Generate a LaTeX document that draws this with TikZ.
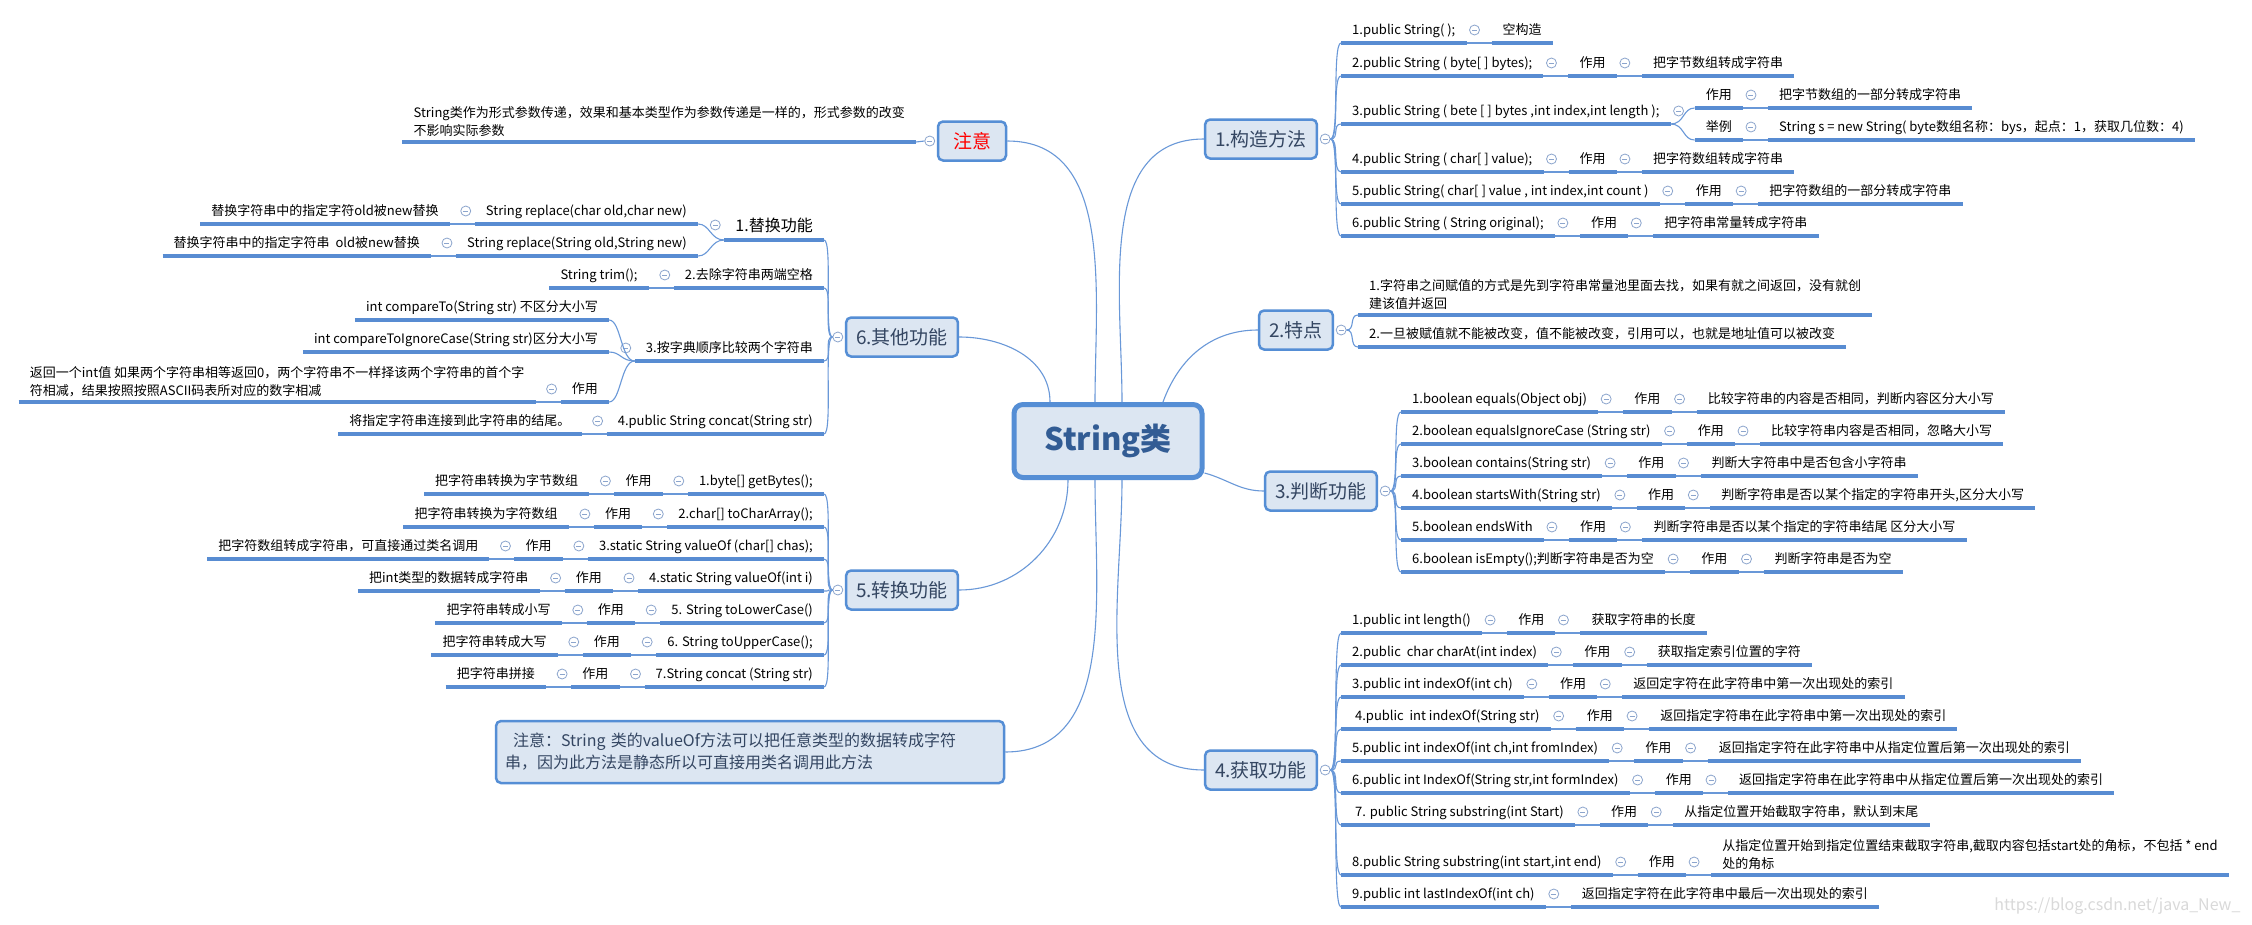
\documentclass[tikz,border=0pt]{standalone}
\usepackage{fontspec}
\setmainfont{Noto Sans CJK SC}
\usepackage{tikz}
\usetikzlibrary{positioning,calc}
\definecolor{boxc}{RGB}{85,142,213}
\definecolor{boxf}{RGB}{220,230,242}
\definecolor{ulc}{RGB}{88,140,210}
\definecolor{linkc}{RGB}{105,152,216}
\definecolor{foldc}{RGB}{140,165,205}
\definecolor{roottxt}{RGB}{50,92,148}
\definecolor{branchtxt}{RGB}{52,70,98}
\tikzset{
	root/.style={draw=boxc,line width=5pt,rounded corners=9pt,fill=boxf,text=roottxt,font=\bfseries\fontsize{31}{36}\selectfont,minimum width=188pt,minimum height=73pt},
	branch/.style={draw=boxc,line width=2.5pt,rounded corners=5pt,fill=boxf,text=branchtxt,font=\fontsize{19}{22}\selectfont,minimum width=68pt,minimum height=39pt,inner xsep=10pt},
	notebox/.style={branch,font=\fontsize{16}{22}\selectfont,align=left,text width=490pt,inner xsep=9pt,minimum height=62pt},
	uline/.style={draw=ulc,line width=3.5pt},
	txt/.style={font=\fontsize{13}{18}\selectfont,inner xsep=11pt,inner ysep=3pt,append after command={(\tikzlastnode.south west) edge[uline] (\tikzlastnode.south east)}},
	leaf/.style={txt,text height=10pt,text depth=5pt},
	midtxt/.style={txt,font=\fontsize{16}{20}\selectfont,text height=12pt,text depth=5pt},
	multi/.style={txt,align=left,inner ysep=5pt},
	link/.style={draw=linkc,line width=1.1pt},
	fold/.style={circle,draw=foldc,fill=white,line width=0.8pt,inner sep=0pt,minimum size=10pt,path picture={\draw[foldc,line width=0.8pt] ([xshift=-2.5pt]path picture bounding box.center) -- ([xshift=2.5pt]path picture bounding box.center);}}
}
\begin{document}
\begin{tikzpicture}[x=1pt,y=-1pt]
	\fill[white] (0,0) rectangle (2252,924);
	\useasboundingbox (0,0) rectangle (2252,924);
	\node[root] (root) at (1108,441) {String类};
	\node[branch] (gouzao) at (1261,139) {1.构造方法};
	\node[branch] (tedian) at (1296,330) {2.特点};
	\node[branch] (panduan) at (1321,491) {3.判断功能};
	\node[branch] (huoqu) at (1261,770) {4.获取功能};
	\node[branch,text=red] (zhuyi) at (972,141) {注意};
	\node[branch] (qita) at (902,337) {6.其他功能};
	\node[branch] (zhuanhuan) at (902,590) {5.转换功能};
	\node[notebox] (note) at (750,752) {\hspace*{8pt}注意：String 类的valueOf方法可以把任意类型的数据转成字符\\串，因为此方法是静态所以可直接用类名调用此方法};
	\foreach \b in {gouzao,tedian,panduan,huoqu}
		\node[fold] (\b-f) at ([xshift=7pt]\b.east) {};
	\foreach \b in {zhuyi,qita,zhuanhuan}
		\node[fold] (\b-f) at ([xshift=-7pt]\b.west) {};
	\draw[link] ([xshift=-58pt]root.north) to[out=90,in=0] (qita.east);
	\draw[link] ([xshift=-13pt]root.north) to[out=90,in=0] (zhuyi.east);
	\draw[link] ([xshift=14pt]root.north) to[out=90,in=180] (gouzao.west);
	\draw[link] ([xshift=55pt]root.north) to[out=70,in=180] (tedian.west);
	\draw[link] ([yshift=-32pt]root.east) to[out=-15,in=180] (panduan.west);
	\draw[link] ([xshift=-40pt]root.south) to[out=-90,in=0] (zhuanhuan.east);
	\draw[link] ([xshift=-13pt]root.south) to[out=-90,in=0] (note.east);
	\draw[link] ([xshift=14pt]root.south) to[out=-90,in=180] (huoqu.west);

	\node[leaf,anchor=south west] (c1) at (1341,43) {1.public String( );};
	\node[leaf,right=25pt of c1.south east,anchor=south west] (c1-d) {空构造};
	\node[leaf,anchor=south west] (c3) at (1341,124) {3.public String ( bete [ ] bytes ,int index,int length );};
	\node[leaf,right=24pt of c3.south east,anchor=south west,yshift=16pt] (c3a) {作用};
	\node[leaf,right=24pt of c3.south east,anchor=south west,yshift=-16pt] (c3b) {举例};
	\node[leaf,right=25pt of c3a.south east,anchor=south west] (c3a-d) {把字节数组的一部分转成字符串};
	\node[leaf,right=25pt of c3b.south east,anchor=south west] (c3b-d) {String s = new String( byte数组名称：bys，起点：1，获取几位数：4)};
	\node[multi,anchor=south west] (t1) at (1358,315) {1.字符串之间赋值的方式是先到字符串常量池里面去找，如果有就之间返回，没有就创\\建该值并返回};
	\node[leaf,anchor=south west] (t2) at (1358,347) {2.一旦被赋值就不能被改变，值不能被改变，引用可以，也就是地址值可以被改变};
	\node[leaf,anchor=south west] (h8) at (1341,875) {8.public String substring(int start,int end)};
	\node[leaf,right=25pt of h8.south east,anchor=south west] (h8-z) {作用};
	\node[multi,right=25pt of h8-z.south east,anchor=south west] (h8-d) {从指定位置开始到指定位置结束截取字符串,截取内容包括start处的角标，不包括 * end\\处的角标};
	\node[leaf,anchor=south west] (h9) at (1341,907) {9.public int lastIndexOf(int ch)};
	\node[leaf,right=25pt of h9.south east,anchor=south west] (h9-d) {返回指定字符在此字符串中最后一次出现处的索引};
	\foreach \a/\b in {c1/c1-d,c3a/c3a-d,c3b/c3b-d,h8/h8-z,h8-z/h8-d,h9/h9-d}{
		\draw[link] (\a.south east) -- (\b.south west);
		\node[fold] (\a-f) at ([shift={(8pt,13pt)}]\a.south east) {};
	}
	\node[fold] (c3-f) at ([shift={(8pt,13pt)}]c3.south east) {};
	\foreach \b in {c3a,c3b}
		\draw[link] (c3.south east) .. controls +(14pt,0) and +(-12pt,0) .. (\b.south west);

	\foreach \n/\x/\y/\m/\w in {
		c2/1341/76/{2.public String ( byte[ ] bytes);}/{把字节数组转成字符串},
		c4/1341/172/{4.public String ( char[ ] value);}/{把字符数组转成字符串},
		c5/1341/204/{5.public String( char[ ] value , int index,int count )}/{把字符数组的一部分转成字符串},
		c6/1341/236/{6.public String ( String original);}/{把字符串常量转成字符串},
		j1/1401/412/{1.boolean equals(Object obj)}/{比较字符串的内容是否相同，判断内容区分大小写},
		j2/1401/444/{2.boolean equalsIgnoreCase (String str)}/{比较字符串内容是否相同，忽略大小写},
		j3/1401/476/{3.boolean contains(String str)}/{判断大字符串中是否包含小字符串},
		j4/1401/508/{4.boolean startsWith(String str)}/{判断字符串是否以某个指定的字符串开头,区分大小写},
		j5/1401/540/{5.boolean endsWith}/{判断字符串是否以某个指定的字符串结尾 区分大小写},
		j6/1401/572/{6.boolean isEmpty();判断字符串是否为空}/{判断字符串是否为空},
		h1/1341/633/{1.public int length()}/{获取字符串的长度},
		h2/1341/665/{2.public\ \ char charAt(int index)}/{获取指定索引位置的字符},
		h3/1341/697/{3.public int indexOf(int ch)}/{返回定字符在此字符串中第一次出现处的索引},
		h4/1341/729/{\ 4.public\ \ int indexOf(String str)}/{返回指定字符串在此字符串中第一次出现处的索引},
		h5/1341/761/{5.public int indexOf(int ch,int fromIndex)}/{返回指定字符在此字符串中从指定位置后第一次出现处的索引},
		h6/1341/793/{6.public int IndexOf(String str,int formIndex)}/{返回指定字符串在此字符串中从指定位置后第一次出现处的索引},
		h7/1341/825/{\ 7. public String substring(int Start)}/{从指定位置开始截取字符串，默认到末尾}}{
		\node[leaf,anchor=south west] (\n) at (\x,\y) {\m};
		\node[leaf,right=25pt of \n.south east,anchor=south west] (\n-z) {作用};
		\node[leaf,right=25pt of \n-z.south east,anchor=south west] (\n-d) {\w};
		\draw[link] (\n.south east) -- (\n-z.south west) (\n-z.south east) -- (\n-d.south west);
		\node[fold] (\n-f1) at ([shift={(8pt,13pt)}]\n.south east) {};
		\node[fold] (\n-f2) at ([shift={(8pt,13pt)}]\n-z.south east) {};
	}
	\foreach \i in {1,...,6}
		\draw[link] (gouzao-f.east) .. controls +(9pt,0) and +(-9pt,0) .. (c\i.south west);
	\foreach \i in {1,2}
		\draw[link] (tedian-f.east) .. controls +(9pt,0) and +(-9pt,0) .. (t\i.south west);
	\foreach \i in {1,...,6}
		\draw[link] (panduan-f.east) .. controls +(9pt,0) and +(-9pt,0) .. (j\i.south west);
	\foreach \i in {1,...,9}
		\draw[link] (huoqu-f.east) .. controls +(9pt,0) and +(-9pt,0) .. (h\i.south west);

	\node[multi,anchor=south east] (zhuyi-d) at (916,142) {String类作为形式参数传递，效果和基本类型作为参数传递是一样的，形式参数的改变\\不影响实际参数};
	\draw[link] (zhuyi-f.west) -- (zhuyi-d.south east);
	\node[midtxt,anchor=south east] (o1) at (824,240) {1.替换功能};
	\node[leaf,anchor=south east] (o1a) at (698,224) {String replace(char old,char new)};
	\node[leaf,left=25pt of o1a.south west,anchor=south east] (o1a-d) {替换字符串中的指定字符old被new替换};
	\node[leaf,anchor=south east] (o1b) at (698,256) {String replace(String old,String new)};
	\node[leaf,left=25pt of o1b.south west,anchor=south east] (o1b-d) {替换字符串中的指定字符串\ \ old被new替换};
	\node[leaf,anchor=south east] (o2) at (824,288) {2.去除字符串两端空格};
	\node[leaf,left=25pt of o2.south west,anchor=south east] (o2-d) {String trim();};
	\node[leaf,anchor=south east] (o3) at (824,361) {3.按字典顺序比较两个字符串};
	\node[leaf,anchor=south east] (o3a) at (609,320) {int compareTo(String str) 不区分大小写};
	\node[leaf,anchor=south east] (o3b) at (609,352) {int compareToIgnoreCase(String str)区分大小写};
	\node[leaf,anchor=south east] (o3c) at (609,402) {作用};
	\node[multi,left=25pt of o3c.south west,anchor=south east] (o3c-d) {返回一个int值 如果两个字符串相等返回0，两个字符串不一样择该两个字符串的首个字\\符相减，结果按照按照ASCII码表所对应的数字相减};
	\node[leaf,anchor=south east] (o4) at (824,434) {4.public String concat(String str)};
	\node[leaf,left=25pt of o4.south west,anchor=south east] (o4-d) {将指定字符串连接到此字符串的结尾。};
	\node[fold] (o1-f) at ([shift={(-9pt,15pt)}]o1.south west) {};
	\foreach \a/\b in {o1a/o1a-d,o1b/o1b-d,o2/o2-d,o3c/o3c-d,o4/o4-d}{
		\draw[link] (\a.south west) -- (\b.south east);
		\node[fold] (\a-f) at ([shift={(-9pt,13pt)}]\a.south west) {};
	}
	\node[fold] (o3-f) at ([shift={(-9pt,13pt)}]o3.south west) {};
	\foreach \a/\b in {o1/o1a,o1/o1b,o3/o3a,o3/o3b,o3/o3c}
		\draw[link] (\a.south west) .. controls +(-14pt,0) and +(12pt,0) .. (\b.south east);
	\foreach \i in {1,...,4}
		\draw[link] (qita-f.west) .. controls +(-9pt,0) and +(9pt,0) .. (o\i.south east);

	\foreach \n/\y/\m/\w in {
		z1/494/{1.byte[] getBytes();}/{把字符串转换为字节数组},
		z2/527/{2.char[] toCharArray();}/{把字符串转换为字符数组},
		z3/559/{3.static String valueOf (char[] chas);}/{把字符数组转成字符串，可直接通过类名调用},
		z4/591/{4.static String valueOf(int i)}/{把int类型的数据转成字符串},
		z5/623/{5. String toLowerCase()}/{把字符串转成小写},
		z6/655/{6. String toUpperCase();}/{把字符串转成大写},
		z7/687/{7.String concat (String str)}/{把字符串拼接}}{
		\node[leaf,anchor=south east] (\n) at (824,\y) {\m};
		\node[leaf,left=25pt of \n.south west,anchor=south east] (\n-z) {作用};
		\node[leaf,left=25pt of \n-z.south west,anchor=south east] (\n-d) {\w};
		\draw[link] (\n.south west) -- (\n-z.south east) (\n-z.south west) -- (\n-d.south east);
		\node[fold] (\n-f1) at ([shift={(-9pt,13pt)}]\n.south west) {};
		\node[fold] (\n-f2) at ([shift={(-9pt,13pt)}]\n-z.south west) {};
		\draw[link] (zhuanhuan-f.west) .. controls +(-9pt,0) and +(9pt,0) .. (\n.south east);
	}
	\node[font=\fontsize{16}{18}\selectfont,text=black!15,anchor=east] (mark) at (2244,906) {https://blog.csdn.net/java\_New\_};
\end{tikzpicture}
\end{document}
